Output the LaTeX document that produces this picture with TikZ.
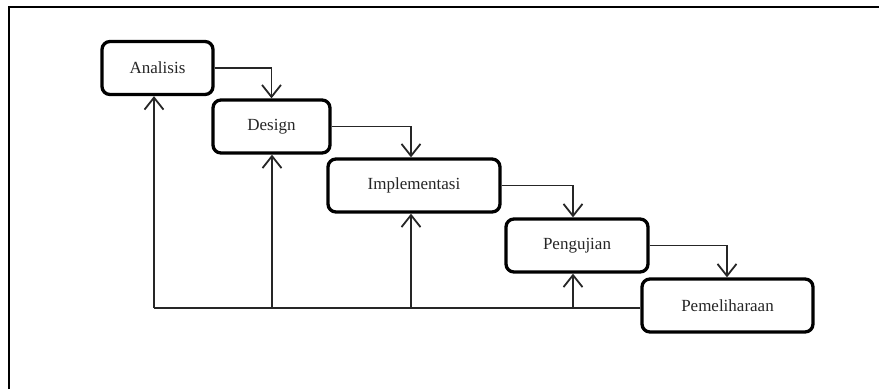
\documentclass[tikz,border=0pt]{standalone}
\usepackage{fontspec}
\setmainfont{Liberation Serif}
\usetikzlibrary{arrows.meta}
\begin{document}
\begin{tikzpicture}[x=1pt,y=-1pt,
  stage/.style={draw=black, line width=3.3pt, rounded corners=8pt, fill=white,
    minimum height=53pt, inner sep=0pt, font=\fontsize{17}{20}\selectfont, text=black!85},
  conn/.style={line width=1.8pt, black!85},
  arr/.style={conn, -{Straight Barb[length=12pt,width=19pt,line width=1.8pt]}}]
\useasboundingbox (0,0) rectangle (879,389);
\draw[line width=2.5pt] (9,389) -- (9,7) -- (879,7);
\node[stage, minimum width=111pt] (a) at (157.5,68) {Analisis};
\node[stage, minimum width=117pt] (d) at (271.5,126.5) {Design};
\node[stage, minimum width=172pt] (i) at (414,185.5) {Implementasi};
\node[stage, minimum width=142pt] (p) at (577,245.5) {Pengujian};
\node[stage, minimum width=171pt] (m) at (727.5,305.5) {Pemeliharaan};
% forward arrows
\coordinate (ca) at (272,0);
\coordinate (ci) at (411,0);
\coordinate (cp) at (573,0);
\coordinate (cm) at (727,0);
\draw[arr] (a.east) -| (d.north);
\draw[arr] (d.east) -| (ci |- i.north);
\draw[arr] (i.east) -| (cp |- p.north);
\draw[arr] (p.east) -| (cm |- m.north);
% feedback
\coordinate (fb) at (154,308);
\draw[conn] (m.west |- fb) -- (fb);
\draw[arr] (fb) -- (fb |- a.south);
\draw[arr] (ca |- fb) -- (ca |- d.south);
\draw[arr] (ci |- fb) -- (ci |- i.south);
\draw[arr] (cp |- fb) -- (cp |- p.south);
\end{tikzpicture}
\end{document}
